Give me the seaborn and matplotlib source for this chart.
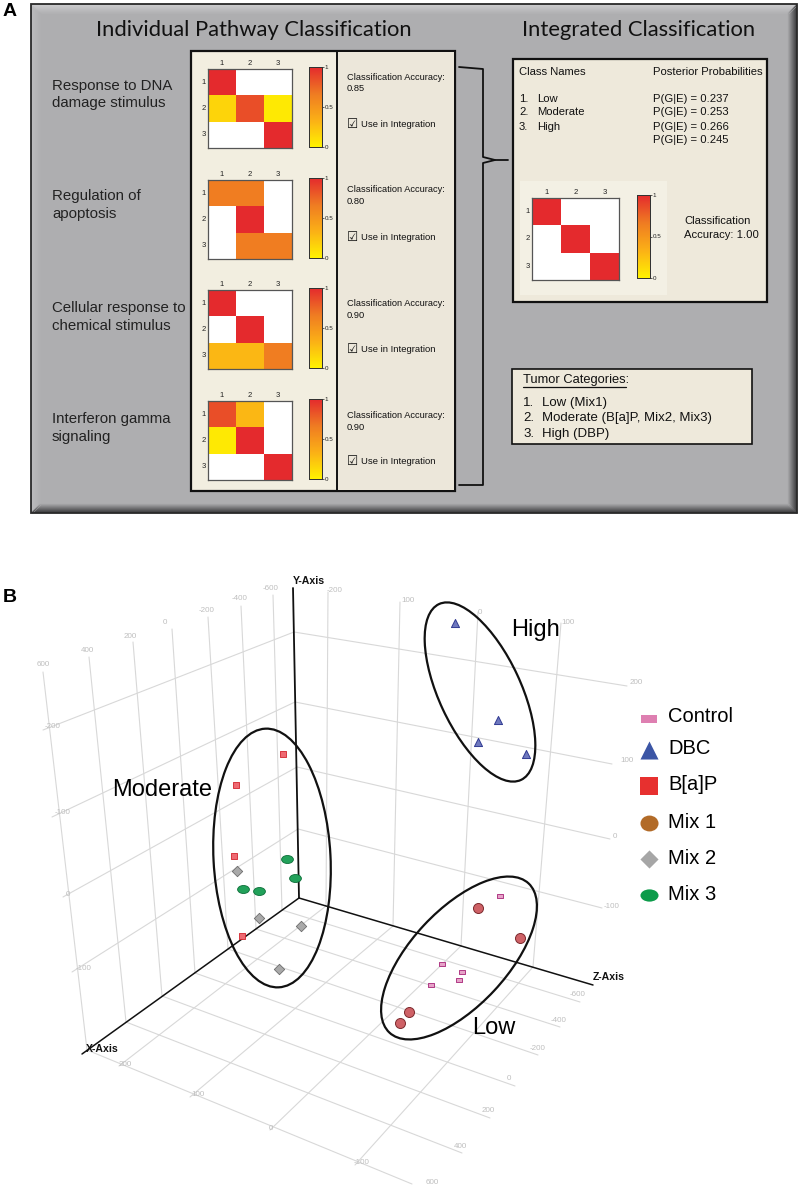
import numpy as np
import pandas as pd
import seaborn as sns
from matplotlib import pyplot as plt
from matplotlib.colors import LinearSegmentedColormap
from matplotlib.patches import Ellipse, Rectangle
from matplotlib.path import Path
from matplotlib.transforms import Affine2D

W, H = 800, 1186

#### panel A data
pathways = [["Response to DNA", "damage stimulus"], ["Regulation of", "apoptosis"],
            ["Cellular response to", "chemical stimulus"], ["Interferon gamma", "signaling"]]
accuracy = ["0.85", "0.80", "0.90", "0.90"]
matrix_dna = [[1.0, 0, 0], [0.15, 0.85, 0.05], [0, 0, 1.0]]
matrix_apop = [[0.65, 0.65, 0], [0, 1.0, 0], [0, 0.65, 0.65]]
matrix_chem = [[1.0, 0, 0], [0, 1.0, 0], [0.3, 0.3, 0.65]]
matrix_ifn = [[0.85, 0.3, 0], [0.05, 1.0, 0], [0, 0, 1.0]]
matrix_all = [[1.0, 0, 0], [0, 1.0, 0], [0, 0, 1.0]]
class_names = ["Low", "Moderate", "High"]
posteriors = ["0.237", "0.253", "0.266", "0.245"]
tumor_cats = ["Low (Mix1)", "Moderate (B[a]P, Mix2, Mix3)", "High (DBP)"]

#### panel B data, read as projected positions on the picture
control_x = [500, 442, 462, 459, 431]
control_y = [896, 964, 972, 980, 985]
dbc_x = [455, 498, 478, 526]
dbc_y = [623, 720, 742, 754]
bap_x = [283, 236, 234, 242]
bap_y = [754, 785, 856, 936]
mix1_x = [478, 520, 409, 400]
mix1_y = [908, 938, 1012, 1023]
mix2_x = [237, 259, 301, 279]
mix2_y = [871, 918, 926, 969]
mix3_x = [287, 295, 243, 259]
mix3_y = [859, 878, 889, 891]

legend_names = ["Control", "DBC", "B[a]P", "Mix 1", "Mix 2", "Mix 3"]

#### 3D box drawn as flat lines: [x0, y0, x1, y1]
origin = (299, 898)
x_axis_end = (82, 1054)
y_axis_end = (293, 588)
z_axis_end = (593, 985)
left_h = [[294, 632, 43, 730], [295, 702, 52, 817], [297, 767, 63, 897], [298, 829, 72, 972]]
right_h = [[294, 632, 627, 686], [295, 702, 612, 764], [297, 767, 610, 839], [298, 829, 602, 908]]
left_v = [[43, 672, 87, 1050], [89, 657, 126, 1022], [133, 642, 162, 996], [172, 629, 195, 973],
          [208, 617, 228, 949], [241, 606, 256, 929], [273, 595, 282, 910]]
right_v = [[328, 592, 326, 906], [400, 602, 393, 926], [478, 612, 461, 946], [561, 623, 533, 967]]
floor_z = [[282, 910, 580, 1002], [256, 929, 560, 1027], [228, 949, 538, 1055], [195, 973, 515, 1086],
           [162, 996, 490, 1118], [126, 1022, 462, 1153], [87, 1050, 412, 1184]]
floor_x = [[326, 906, 119, 1066], [393, 926, 190, 1097], [461, 946, 270, 1130], [533, 967, 355, 1165]]
grid_labels = [(43, 665, "600"), (87, 650, "400"), (130, 636, "200"), (165, 622, "0"), (207, 610, "-200"),
               (240, 599, "-400"), (271, 589, "-600"), (335, 591, "-200"), (408, 601, "100"), (480, 612, "0"),
               (568, 623, "100"), (53, 726, "-200"), (63, 813, "-100"), (68, 894, "0"), (84, 969, "-100"),
               (636, 683, "200"), (627, 761, "100"), (615, 836, "0"), (612, 906, "-100"),
               (578, 995, "-600"), (559, 1020, "-400"), (538, 1049, "-200"), (509, 1079, "0"), (488, 1111, "200"),
               (460, 1147, "400"), (432, 1182, "600"), (125, 1065, "200"), (198, 1095, "100"), (271, 1128, "0"),
               (362, 1163, "-100")]

sns.set_style("white")
plt.rcParams['font.family'] = ['Liberation Sans', 'DejaVu Sans']

fig = plt.figure(figsize=(W / 100, H / 100), dpi=100, facecolor="white")
ax = fig.add_axes([0, 0, 1, 1])
ax.set_xlim(0, W)
ax.set_ylim(H, 0)
ax.axis("off")

cmap = LinearSegmentedColormap.from_list("yor", ["#FFF200", "#FBB016", "#EF7B22", "#E42A2D"])


def pix_axes(x0, y0, x1, y1):
    return fig.add_axes([x0 / W, 1 - y1 / H, (x1 - x0) / W, (y1 - y0) / H])


def draw_heat(values, box, cbox):
    axh = pix_axes(*box)
    cax = pix_axes(*cbox)
    arr = np.array(values)
    sns.heatmap(pd.DataFrame(arr, index=[1, 2, 3], columns=[1, 2, 3]), mask=arr == 0, cmap=cmap, vmin=0, vmax=1,
                ax=axh, cbar_ax=cax, cbar_kws={"ticks": [0, 0.5, 1]})
    axh.set_facecolor("white")
    axh.xaxis.tick_top()
    axh.tick_params(axis="both", length=0, labelsize=5.5, pad=1.5, colors="#222222", labelrotation=0)
    for s in axh.spines.values():
        s.set_visible(True)
        s.set_color("#555555")
        s.set_linewidth(0.9)
    cax.yaxis.tick_right()
    cax.set_yticklabels(["0", "0.5", "1"])
    cax.tick_params(axis="y", length=1.5, width=0.5, labelsize=4.5, pad=0.5, colors="#222222")
    for s in cax.spines.values():
        s.set_visible(True)
        s.set_color("#333333")
        s.set_linewidth(0.7)


def txt(x, y, s, size=7.0, **kw):
    kw.setdefault("va", "center")
    kw.setdefault("color", "#111111")
    ax.text(x, y, s, fontsize=size, **kw)


def box(x0, y0, x1, y1, face, lw=1.6, z=3):
    ax.add_patch(Rectangle((x0, y0), x1 - x0, y1 - y0, facecolor=face, edgecolor="#111111", lw=lw, zorder=z))


#### panel A frame, bevel is a few nested lines fading to the face colour
ax.add_patch(Rectangle((31, 4), 766, 509, facecolor="#AEAEB0", edgecolor="none", zorder=1))
base = np.array([0.682, 0.682, 0.690])
for k in range(9):
    t = k / 9
    light = tuple(base + (1 - t) * 0.11)
    soft = tuple(base + (1 - t) * 0.05)
    dark = tuple(base - (1 - t) * 0.46)
    ax.plot([31 + k, 797 - k], [5 + k, 5 + k], color=light, lw=0.9, zorder=2, solid_capstyle="butt")
    ax.plot([32 + k, 32 + k], [5 + k, 513 - k], color=soft, lw=0.9, zorder=2, solid_capstyle="butt")
    ax.plot([796 - k, 796 - k], [4 + k, 513 - k], color=dark, lw=0.9, zorder=2, solid_capstyle="butt")
    ax.plot([31 + k, 797 - k], [512 - k, 512 - k], color=dark, lw=0.9, zorder=2, solid_capstyle="butt")
ax.add_patch(Rectangle((31, 4), 766, 509, fill=False, edgecolor="#2A2A2A", lw=1.3, zorder=2.5))

txt(3, 11, "A", 14, weight="bold", color="black")
txt(3, 598, "B", 14, weight="bold", color="black")
txt(254, 30, "Individual Pathway Classification", 15.8, ha="center", family="Lato", zorder=4)
txt(639, 30, "Integrated Classification", 15.8, ha="center", family="Lato", zorder=4)

box(191, 51, 455, 491, "#F2EEE0")
ax.add_patch(Rectangle((337, 52), 117, 438, facecolor="#ECE7DA", lw=0, zorder=3))
ax.plot([337, 337], [51, 491], color="#111111", lw=1.4, zorder=4)

heat_y = [69, 180, 290, 401]
bar_y = [67, 178, 288, 399]
label_y = [(86, 103), (196, 214), (308, 326), (419, 437)]
acc_y = [(77, 88.5), (190, 201), (303, 315), (415, 427)]
use_y = [124.5, 237, 349, 461]
matrices = [matrix_dna, matrix_apop, matrix_chem, matrix_ifn]
for i in range(4):
    draw_heat(matrices[i], (208, heat_y[i], 292, heat_y[i] + 79), (309, bar_y[i], 322, bar_y[i] + 80))
    txt(52, label_y[i][0], pathways[i][0], 10.8, zorder=4, color="#222222")
    txt(52, label_y[i][1], pathways[i][1], 10.8, zorder=4, color="#222222")
    txt(347, acc_y[i][0], "Classification Accuracy:", 6.7, zorder=4)
    txt(347, acc_y[i][1], accuracy[i], 6.7, zorder=4)
    txt(347, use_y[i], "\u2611", 9, zorder=4, family="DejaVu Sans")
    txt(361, use_y[i], "Use in Integration", 6.8, zorder=4)

# bracket between the panels
ax.plot([459, 483, 483, 495, 483, 483, 459], [67, 69, 157, 160, 163, 485, 485], color="#111111", lw=1.3, zorder=4)
ax.plot([495, 508], [160, 160], color="#111111", lw=1.3, zorder=4)

# integrated box
box(513, 59, 767, 302, "#EEE9DB")
ax.add_patch(Rectangle((520, 181), 147, 114, facecolor="#F3F0E4", lw=0, zorder=3.5))
txt(519, 72, "Class Names", 8.1, zorder=4)
txt(653, 72, "Posterior Probabilities", 8.1, zorder=4)
list_y = [99, 112, 127, 140]
for i, name in enumerate(class_names):
    txt(519, list_y[i], f"{i + 1}.", 8.1, zorder=4)
    txt(537, list_y[i], name, 8.1, zorder=4)
for i, p in enumerate(posteriors):
    txt(653, list_y[i], f"P(G|E) = {p}", 8.1, zorder=4)
draw_heat(matrix_all, (532, 198, 619, 280), (637, 195, 650, 278))
txt(684, 221, "Classification", 8.1, zorder=4)
txt(684, 235, "Accuracy: 1.00", 8.1, zorder=4)

# tumor box
box(512, 369, 752, 444, "#EEE9DB", lw=1.2)
txt(523, 380, "Tumor Categories:", 9.3, zorder=4)
ax.plot([523, 626], [387, 387], color="#111111", lw=0.9, zorder=4)
tumor_y = [403, 418, 434]
for i, name in enumerate(tumor_cats):
    txt(523, tumor_y[i], f"{i + 1}.", 9.5, zorder=4)
    txt(542, tumor_y[i], name, 9.5, zorder=4)

#### panel B grid
for seg in left_h + right_h + left_v + right_v + floor_z + floor_x:
    ax.plot([seg[0], seg[2]], [seg[1], seg[3]], color="#D8D8D8", lw=0.8, zorder=1)
for gx, gy, s in grid_labels:
    txt(gx, gy, s, 5.8, ha="center", color="#BEBEBE", zorder=2)

for end in (x_axis_end, z_axis_end):
    ax.plot([origin[0], end[0]], [origin[1], end[1]], color="#111111", lw=1.1, zorder=3)
ax.plot([origin[0], y_axis_end[0]], [origin[1], y_axis_end[1]], color="#111111", lw=1.3, zorder=3)
txt(293, 581, "Y-Axis", 7.6, weight="bold", zorder=4)
txt(86, 1049, "X-Axis", 7.6, weight="bold", zorder=4)
txt(593, 977, "Z-Axis", 7.6, weight="bold", zorder=4)

for c, w, h_, a in [((272, 858), 117, 259, -3), ((480, 692), 82, 194, -25), ((459, 958), 96, 204, 43)]:
    ax.add_patch(Ellipse(c, w, h_, angle=a, fill=False, edgecolor="#111111", lw=1.6, zorder=5))
txt(112, 790, "Moderate", 17, zorder=6, color="black")
txt(511, 630, "High", 17, zorder=6, color="black")
txt(472, 1028, "Low", 17, zorder=6, color="black")

# markers
oval_wide = Path.unit_circle().transformed(Affine2D().scale(1, 0.68))
oval_tall = Path.unit_circle().transformed(Affine2D().scale(1, 0.88))
bar = Path.unit_rectangle().transformed(Affine2D().translate(-0.5, -0.5).scale(1, 0.55))

groups = [
    (control_x, control_y, bar, 17, "#E6A3C8", "#B03A86", 0.7),
    (dbc_x, dbc_y, "^", 34, "#6E78BE", "#303A92", 0.7),
    (bap_x, bap_y, "s", 15, "#EE6A72", "#D1232C", 0.6),
    (mix1_x, mix1_y, "o", 52, "#CE6166", "#7C2A2D", 0.7),
    (mix2_x, mix2_y, "D", 28, "#A9A9A9", "#6C6C6C", 0.6),
    (mix3_x, mix3_y, oval_wide, 72, "#22A15A", "#0C6E38", 0.6),
]
for gx, gy, m, size, face, edge, lw in groups:
    sns.scatterplot(x=gx, y=gy, marker=m, s=size, color=face, edgecolor=edge, linewidth=lw, ax=ax, zorder=7,
                    legend=False)

# legend on the right
leg_y = [719, 750, 786, 823, 859, 895]
leg_text_y = [717, 749, 785, 823, 859, 894]
leg_styles = [(bar, 132, "#DE7FB1"), ("^", 169, "#3B55A5"), ("s", 169, "#E7302F"),
              (oval_tall, 169, "#B26B28"), ("D", 85, "#A6A6A6"), (oval_wide, 169, "#0C9B4A")]
for name, ly, ty, (m, size, col) in zip(legend_names, leg_y, leg_text_y, leg_styles):
    sns.scatterplot(x=[649], y=[ly], marker=m, s=size, color=col, linewidth=0, ax=ax, zorder=7, legend=False)
    txt(668, ty, name, 14.5, zorder=7, color="black")

ax.set_xlim(0, W)
ax.set_ylim(H, 0)
ax.axis("off")
fig.savefig("out.png", dpi=100)
